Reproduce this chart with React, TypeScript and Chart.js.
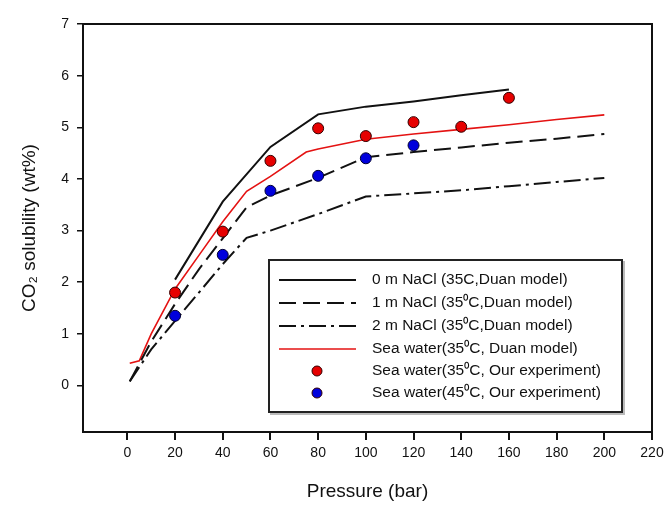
import React, { useEffect, useRef } from "react";
import { Chart, registerables } from "chart.js";

Chart.register(...registerables);

// ---- data ----
const nacl0P = [20, 40, 60, 80, 100, 120, 140, 160];
const nacl0S = [2.05, 3.56, 4.62, 5.25, 5.4, 5.5, 5.62, 5.73];

const nacl1P = [1, 10, 20, 30, 40, 50, 60, 80, 100, 120, 140, 160, 180, 200];
const nacl1S = [0.08, 0.85, 1.58, 2.25, 2.85, 3.45, 3.68, 4.02, 4.42, 4.52, 4.61, 4.7, 4.78, 4.87];

const nacl2P = [1, 10, 20, 30, 40, 50, 60, 80, 100, 120, 140, 160, 180, 200];
const nacl2S = [0.08, 0.7, 1.25, 1.8, 2.35, 2.86, 3.0, 3.32, 3.66, 3.72, 3.78, 3.86, 3.94, 4.02];

const seaModelP = [1, 5, 10, 20, 30, 40, 50, 60, 75, 80, 100, 120, 140, 160, 180, 200];
const seaModelS = [0.43, 0.48, 1.0, 1.87, 2.52, 3.17, 3.76, 4.05, 4.52, 4.58, 4.77, 4.87, 4.96, 5.05, 5.15, 5.24];

const exp35P = [20, 40, 60, 80, 100, 120, 140, 160];
const exp35S = [1.8, 2.98, 4.35, 4.98, 4.83, 5.1, 5.01, 5.57];

const exp45P = [20, 40, 60, 80, 100, 120];
const exp45S = [1.35, 2.53, 3.77, 4.06, 4.4, 4.65];

const xTicks = [0, 20, 40, 60, 80, 100, 120, 140, 160, 180, 200, 220];
const yTicks = [0, 1, 2, 3, 4, 5, 6, 7];

const legendLabels = [
  "0 m NaCl (35C,Duan model)",
  "1 m NaCl (35\u2070C,Duan model)",
  "2 m NaCl (35\u2070C,Duan model)",
  "Sea water(35\u2070C, Duan model)",
  "Sea water(35\u2070C, Our experiment)",
  "Sea water(45\u2070C, Our experiment)",
];

const FONT = "'Liberation Sans', Arial, sans-serif";
const RED = "rgb(228,18,18)";
const DASH = [17, 7];
const DASHDOT = [17, 5, 3, 5];

const pts = (xs: number[], ys: number[]) => xs.map((x, i) => ({ x, y: ys[i] }));

const frameAndLegend = {
  id: "frameAndLegend",
  afterDraw(chart: any) {
    const ctx = chart.ctx;
    const a = chart.chartArea;
    ctx.save();
    // plot frame
    ctx.strokeStyle = "#111";
    ctx.lineWidth = 2;
    ctx.setLineDash([]);
    ctx.strokeRect(a.left, a.top, a.right - a.left, a.bottom - a.top);

    // legend box
    const L = 269, T = 260, R = 622, B = 412;
    ctx.strokeStyle = "#bbb";
    ctx.lineWidth = 2;
    ctx.strokeRect(L + 2, T + 2, R - L, B - T);
    ctx.fillStyle = "#fff";
    ctx.fillRect(L, T, R - L, B - T);
    ctx.strokeStyle = "#222";
    ctx.lineWidth = 2;
    ctx.strokeRect(L, T, R - L, B - T);

    const rows = [280, 303, 326, 349, 371, 393];
    const x1 = 279, x2 = 356, mx = 317, tx = 372;
    ctx.font = `15.5px ${FONT}`;
    ctx.textBaseline = "middle";
    ctx.textAlign = "left";
    rows.forEach((y, i) => {
      if (i < 4) {
        ctx.beginPath();
        ctx.strokeStyle = i === 3 ? RED : "#111";
        ctx.lineWidth = i === 3 ? 1.6 : 2.2;
        ctx.setLineDash(i === 1 ? DASH : i === 2 ? DASHDOT : []);
        ctx.moveTo(x1, y);
        ctx.lineTo(x2, y);
        ctx.stroke();
        ctx.setLineDash([]);
      } else {
        ctx.beginPath();
        ctx.arc(mx, y, 5, 0, Math.PI * 2);
        ctx.fillStyle = i === 4 ? "rgb(230,0,0)" : "rgb(0,0,220)";
        ctx.fill();
        ctx.lineWidth = 1;
        ctx.strokeStyle = "#300";
        ctx.stroke();
      }
      ctx.fillStyle = "#111";
      ctx.fillText(legendLabels[i], tx, y);
    });
    ctx.restore();
  },
};

export default function App() {
  const ref = useRef<HTMLCanvasElement | null>(null);

  useEffect(() => {
    const prevMargin = document.body.style.margin;
    document.body.style.margin = "0";
    if (!ref.current) return;
    const chart = new Chart(ref.current, {
      type: "scatter",
      data: {
        datasets: [
          {
            label: legendLabels[4],
            data: pts(exp35P, exp35S),
            showLine: false,
            pointRadius: 5.5,
            pointBackgroundColor: "rgb(230,0,0)",
            pointBorderColor: "#300",
            pointBorderWidth: 1,
            order: 0,
          },
          {
            label: legendLabels[5],
            data: pts(exp45P, exp45S),
            showLine: false,
            pointRadius: 5.5,
            pointBackgroundColor: "rgb(0,0,220)",
            pointBorderColor: "#003",
            pointBorderWidth: 1,
            order: 0,
          },
          {
            label: legendLabels[0],
            data: pts(nacl0P, nacl0S),
            showLine: true,
            borderColor: "#111",
            borderWidth: 2,
            pointRadius: 0,
            tension: 0,
            order: 1,
          },
          {
            label: legendLabels[1],
            data: pts(nacl1P, nacl1S),
            showLine: true,
            borderColor: "#111",
            borderWidth: 2,
            borderDash: DASH,
            pointRadius: 0,
            order: 1,
          },
          {
            label: legendLabels[2],
            data: pts(nacl2P, nacl2S),
            showLine: true,
            borderColor: "#111",
            borderWidth: 2,
            borderDash: DASHDOT,
            pointRadius: 0,
            order: 1,
          },
          {
            label: legendLabels[3],
            data: pts(seaModelP, seaModelS),
            showLine: true,
            borderColor: RED,
            borderWidth: 1.6,
            pointRadius: 0,
            order: 1,
          },
        ],
      },
      options: {
        animation: false,
        responsive: true,
        maintainAspectRatio: false,
        layout: { padding: { left: 0, top: 24, right: 18, bottom: 0 } },
        plugins: { legend: { display: false }, tooltip: { enabled: false } },
        scales: {
          x: {
            type: "linear",
            min: -18.6,
            max: 220,
            afterBuildTicks: (s: any) => {
              s.ticks = xTicks.map((v) => ({ value: v }));
            },
            afterFit: (s: any) => {
              s.height = 94;
            },
            grid: { drawOnChartArea: false, drawTicks: true, tickLength: 8, color: "#111", lineWidth: 2 },
            border: { display: false },
            ticks: { color: "#111", font: { family: FONT, size: 14 }, padding: 5, maxRotation: 0, autoSkip: false },
            title: {
              display: true,
              text: "Pressure (bar)",
              color: "#111",
              font: { family: FONT, size: 19 },
              padding: { top: 0, bottom: 22.6 },
            },
          },
          y: {
            type: "linear",
            min: -0.9,
            max: 7,
            afterBuildTicks: (s: any) => {
              s.ticks = yTicks.map((v) => ({ value: v }));
            },
            afterFit: (s: any) => {
              s.width = 83;
            },
            grid: { drawOnChartArea: false, drawTicks: true, tickLength: 6, color: "#111", lineWidth: 1.5 },
            border: { display: false },
            ticks: { color: "#111", font: { family: FONT, size: 14 }, padding: 8, autoSkip: false },
            title: {
              display: true,
              text: "CO\u2082 solubility (wt%)",
              color: "#111",
              font: { family: FONT, size: 19 },
              padding: { top: 18, bottom: 0 },
            },
          },
        },
      },
      plugins: [frameAndLegend],
    } as any);
    return () => {
      chart.destroy();
      document.body.style.margin = prevMargin;
    };
  }, []);

  return (
    <div style={{ position: "fixed", left: 0, top: 0, width: 670, height: 526, background: "#fff" }}>
      <canvas ref={ref} />
    </div>
  );
}
